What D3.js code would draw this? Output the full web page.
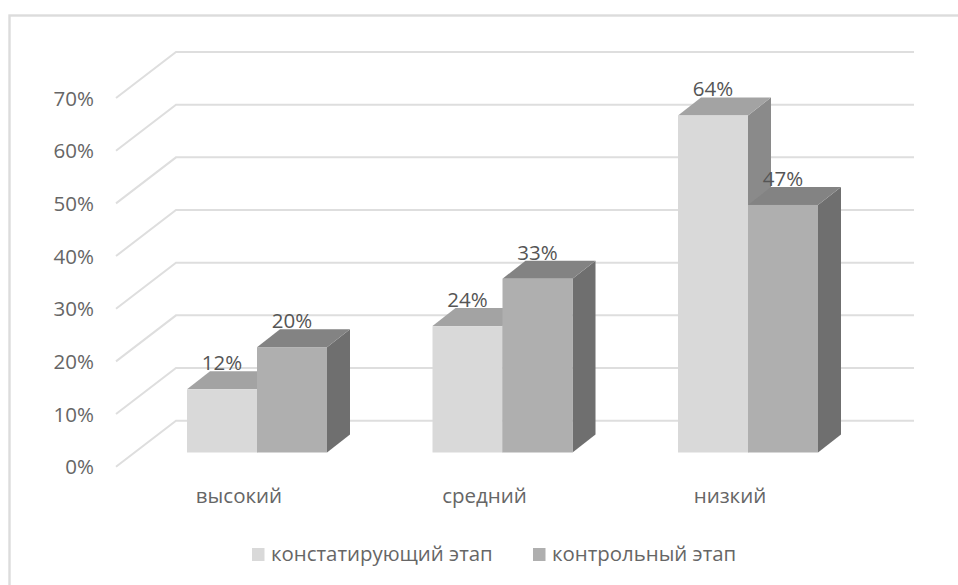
<!DOCTYPE html>
<html>
<head>
<meta charset="utf-8">
<style>
  html, body { margin: 0; padding: 0; background: #fff; }
  svg { display: block; }
  text { font-family: "Open Sans", sans-serif; fill: #666; }
  text.value { fill: #555; }
</style>
<script src="https://cdn.jsdelivr.net/npm/d3@7"></script>
</head>
<body>
<svg id="chart" width="958" height="585"></svg>
<script>
const categories = ["высокий", "средний", "низкий"];
const seriesNames = ["констатирующий этап", "контрольный этап"];
const stage1 = [12, 24, 64];
const stage2 = [20, 33, 47];
const tickValues = [0, 10, 20, 30, 40, 50, 60, 70];
const faceColors = [
  { front: "#d9d9d9", top: "#a3a3a3", side: "#8a8a8a" },
  { front: "#afafaf", top: "#838383", side: "#6f6f6f" }
];

const svg = d3.select("#chart");

// Outer chart frame; its right and bottom edges fall outside the canvas
svg.append("rect")
  .attr("x", 9.5).attr("y", 15.5).attr("width", 1000).attr("height", 1000)
  .attr("fill", "none").attr("stroke", "#dcdcdc").attr("stroke-width", 2.4);

// Value scale on the rear wall, plus the projection offsets of the 3D box
const perPercent = 5.267;
const wallBase = 420.7;
const y = d3.scaleLinear().domain([0, 70]).range([wallBase, wallBase - 70 * perPercent]);
const wallX = d3.scaleLinear().domain([0, 1]).range([176, 914]);
const floorDx = -60, floorDy = 46;

// Bars stand on a plane in front of the wall
const barBaseShift = 31.8;
const barDepthX = 23, barDepthY = -18;
const barY = v => y(v) + barBaseShift;

// Wall gridlines with their slanted return along the side wall
svg.append("g").selectAll("path").data(tickValues).join("path")
  .attr("d", d => {
    const p = d3.path();
    p.moveTo(wallX(0) + floorDx, y(d) + floorDy);
    p.lineTo(wallX(0), y(d));
    p.lineTo(wallX(1), y(d));
    return p.toString();
  })
  .attr("fill", "none").attr("stroke", "#dedede").attr("stroke-width", 2);

// Tick labels
svg.append("g").selectAll("text").data(tickValues).join("text")
  .attr("x", 94).attr("y", d => y(d) + floorDy + 7.5)
  .attr("text-anchor", "end").attr("font-size", 20.5)
  .text(d => d + "%");

// Categories and bars
const groupX = d3.scalePoint().domain(categories).range([187, 678]);
const barWidth = 70;
const series = [stage1, stage2];

const boxes = categories.flatMap((c, i) => series.map((vals, s) => ({
  cat: c, s, value: vals[i], x0: groupX(c) + s * barWidth
})));

// Each box is three faces; later series paint over the earlier one's side
const box = svg.append("g").selectAll("g").data(boxes).join("g");
box.append("path")
  .attr("fill", d => faceColors[d.s].side)
  .attr("d", d => {
    const x1 = d.x0 + barWidth, t = barY(d.value), b = barY(0);
    return `M${x1},${t}L${x1 + barDepthX},${t + barDepthY}L${x1 + barDepthX},${b + barDepthY}L${x1},${b}Z`;
  });
box.append("path")
  .attr("fill", d => faceColors[d.s].top)
  .attr("d", d => {
    const x1 = d.x0 + barWidth, t = barY(d.value);
    return `M${d.x0},${t}L${d.x0 + barDepthX},${t + barDepthY}L${x1 + barDepthX},${t + barDepthY}L${x1},${t}Z`;
  });
box.append("rect")
  .attr("x", d => d.x0).attr("y", d => barY(d.value))
  .attr("width", barWidth).attr("height", d => barY(0) - barY(d.value))
  .attr("fill", d => faceColors[d.s].front);

// Value labels sit just above the front edge of each box
svg.append("g").selectAll("text").data(boxes).join("text")
  .attr("class", "value")
  .attr("x", d => d.x0 + 35)
  .attr("y", d => barY(d.value) - 19)
  .attr("text-anchor", "middle").attr("font-size", 20.5)
  .text(d => d.value + "%");

// Category labels
svg.append("g").selectAll("text").data(categories).join("text")
  .attr("x", d => groupX(d) + 52)
  .attr("y", 503)
  .attr("text-anchor", "middle").attr("font-size", 20.5)
  .text(d => d);

// Legend
const legendX = [252, 533];
const legend = svg.append("g").selectAll("g").data(seriesNames).join("g");
legend.append("rect")
  .attr("x", (d, i) => legendX[i]).attr("y", 548)
  .attr("width", 12.5).attr("height", 13)
  .attr("fill", (d, i) => faceColors[i].front);
legend.append("text")
  .attr("x", (d, i) => legendX[i] + 19).attr("y", 561)
  .attr("font-size", 20.4)
  .text(d => d);
</script>
</body>
</html>
